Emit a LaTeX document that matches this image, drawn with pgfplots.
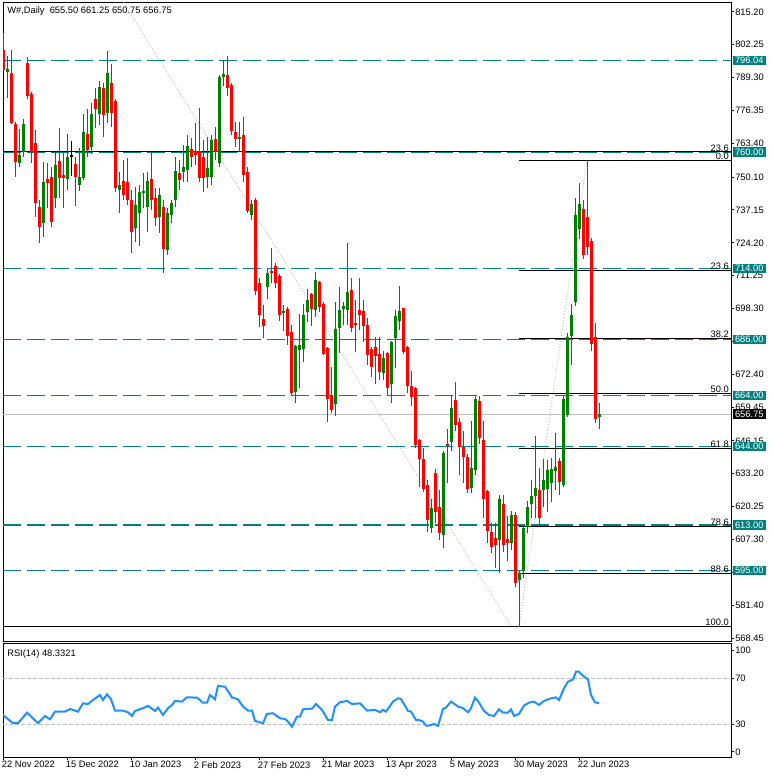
\documentclass[border=0pt]{standalone}
\usepackage{pgfplots}
\pgfplotsset{compat=1.18}
\usepackage{pgfplotstable}
\usepackage{fontspec}
\setmainfont{Liberation Sans}
\definecolor{mtteal}{RGB}{0,128,128}
\definecolor{mtred}{RGB}{255,0,0}
\definecolor{mtgreen}{RGB}{0,128,0}
\definecolor{mtblue}{RGB}{30,144,255}
\definecolor{mtsilver}{RGB}{192,192,192}
\definecolor{mtdiag}{RGB}{196,196,196}
\newcommand{\sm}{\fontsize{7}{8.4}\selectfont}

\pgfplotstableread{
i o h l c
1 791.7 797.9 781.2 792.7
4 755.6 769 754 759
5 760 773 758 771
10 732.2 756 726.4 748
13 741.7 759.8 737.8 754.9
16 749.2 767.1 745 758.2
19 747 761.7 744.8 750.3
20 749.9 775 749 768
22 762.1 779.2 759.2 775
24 774.9 788 770.6 785.8
26 775.3 799.6 771.3 791.3
29 745 752.3 736.1 747
33 730.2 746.3 724.7 739.1
34 735.8 747 723 744.4
35 744 751.6 738 744.4
36 738.5 752 728.6 748.6
39 734.5 746 728 743
41 721.4 738 719.4 735.8
42 735.2 741 732 739.8
43 741.1 758.2 738.5 752.5
45 752.3 762.8 748 754.2
46 752.9 766.7 748 762.4
51 750.3 766 746 753.6
52 750.3 766.7 747 764.7
54 755.6 790.4 754 789.5
55 789.5 796 786 790.8
59 765 772 759.8 765.8
62 735.2 741 733 739.5
66 706.9 714.4 701.9 712.4
70 696.8 699.7 689.6 697.5
73 665.5 684 661 683.5
74 682.1 696.1 667.1 684
75 682.4 700.1 677.4 695.8
76 697.1 705.9 693.1 701.7
78 697.7 712.7 695 709.6
83 660.8 700.8 656.1 690.2
84 690.8 706.9 680.7 697.7
85 698.1 701 692 699.3
86 697.7 724.3 692 704.9
95 673 681.5 670 679
97 668.7 685.6 661.2 685.1
98 686.8 697.7 674.7 695.4
99 693.4 707.3 690 697.5
107 611.7 623.1 610 619.6
110 609 642.2 603.8 641.5
112 645.8 664.2 642 659.2
117 627.7 654.1 625.7 635.3
118 634.7 664.2 632.7 662.7
124 607.1 624.8 594.2 623.1
127 606 618.5 603 616.9
129 591.3 595 572.9 594
130 595 613 592 611.7
131 612.3 622.5 610 620.2
132 621.3 630.7 615.6 624.4
133 624.4 648 615.6 627.7
135 626.8 639 620 630.7
136 627.4 638.6 618.3 634.7
137 629.7 639.3 622.2 634.9
138 634.4 649.1 626.8 636
140 628.8 664 628.1 662.7
141 656.3 688.5 655.7 687
142 687.6 700.1 676 695.8
143 700.8 742 699.3 735
144 729.5 747.9 725.6 739.5
149 655.5 661.25 650.75 656.75
}\bull

\pgfplotstableread{
i o h l c
0 800 807 792 792.5
2 791 800 771 771.5
3 771 772 750.3 756
6 795 797.3 781 782
7 783 783.5 755.6 760
8 763.4 768.7 734.3 740
9 738.5 741 724 730.6
11 749.4 755.6 737.8 747.9
12 750.3 754 730.6 732.6
14 756.5 769.4 741.7 749.9
15 750.9 759.5 737.8 749.6
18 755.3 758.2 738.9 750
21 767.1 777 758 760.8
23 780.9 785.1 769.3 776.8
25 785.4 787.1 765.8 774.6
27 787.3 794.7 769.7 775.5
28 780.2 780.9 744.4 745.7
30 748.6 756.9 741.1 743.1
31 748.3 757.5 739.1 741.1
32 741.1 745 720.3 728.6
37 749.2 759.5 737 741
38 741.7 746 731 734
40 738.2 741 712.2 721.6
44 751.6 756.9 745 749
47 761.2 765.4 754 758.2
48 760.2 771.3 755 759
49 760.2 777.2 748 749.6
50 758.2 764.7 744.4 749.6
53 765 770 757 760
56 790.4 797.9 782 785.1
57 786.4 787.1 766.7 768.4
58 768 771.8 762 765
60 766.8 773.7 748 751
61 752.3 754 736 736.9
63 741.1 742 703.6 705.2
64 708.2 710.2 691.2 695.8
65 694.2 699.7 686.6 691.4
67 713.1 722 708.5 712.6
68 715.1 716.1 706.3 708.5
69 711.1 712 693.5 695.8
71 698 699 684 687.6
72 689 691.8 664.2 664.9
77 704 704.5 691.6 698
79 708.8 709 697 699
80 700.1 701 680 680.4
81 682.9 683 653.7 662.7
82 664.2 675.4 657 658.3
87 705.6 710.2 689 690.8
88 692.6 701.7 681.3 691.8
89 697.7 710.2 690 695.8
90 697.5 701.7 685 691.4
91 691.8 694.5 676 680
92 682.4 683 671.5 675.3
93 683.3 687 668.4 679.7
94 680.4 687 670 673.4
96 680.9 681 664.2 667.1
100 698.5 698.6 680.4 681.3
101 683.3 683.5 665 667.9
102 667.9 673.5 660 663.3
103 667 667.5 643.2 644.5
104 646.7 647 628.1 639
105 639 643.2 626.1 627.2
106 628.8 630.7 610.4 615
108 633.6 634.9 613.7 618.3
109 620.2 626.8 607.1 610
111 644.9 650.8 629.4 644.1
113 662.2 669.4 650 652.4
114 653.7 655 632.7 643.9
115 643.9 650 629.7 639.9
116 639.9 641 625.5 627.4
119 661.9 664 645 647.1
120 646.5 654.1 615.6 623.3
121 626.4 627 605.8 610.8
122 610.4 613.7 601.8 604.5
123 607.7 613.7 595.9 605.1
125 621.3 624.8 602.5 605.1
126 607.5 616.5 598.9 606
128 616.9 618 588.7 590.3
134 626.8 635.3 613 615.6
139 638.4 639.3 624.8 630.1
145 737.4 741.1 718 719.4
146 734.5 756.75 719.4 722.7
147 725.1 726 681.7 684.3
148 687 692.5 653.3 654.6
}\bear

\pgfplotstableread{
i o h l c
17 758.4 764.3 750.5 758.4
}\doji

\pgfplotstableread{
i v
0 38.1
2.5 30.9
3.75 30.9
6 40.1
8.75 30.9
10.5 37.2
11.75 34.3
13 41
15.5 41
16.75 43.3
18.75 41
20 48.2
21.25 47.6
22.5 51.1
24.25 55.5
25 51.1
26 56.1
27 51.7
28 41.9
30 41.9
31.25 40.4
32.25 37.2
33 41.6
35 44
36.25 46
38 41.6
38.75 44.5
40 38.1
41.25 44
42.25 46.8
43 50.3
44.75 49.7
46 53.4
48.5 53.2
50 48.8
51 48.8
51.75 55.5
53 51.7
53.75 63.3
55.5 62.7
57.25 53.4
58.75 51.7
60 45.4
61.25 41.9
62.25 41.9
63 32.9
65 30.9
66 39
67.5 39.6
69.25 35.2
70.5 34.6
71.25 32.3
72.25 27.9
73.5 36.6
74.25 36.6
75 43
77.25 43.6
78.25 47.6
79.75 42.5
81.25 33.7
82.25 33.7
83 45.4
84.25 49.1
86 50.3
87.25 47.6
89.25 48.2
91 41.9
93 42.5
94.25 40.4
95 42.5
95.75 41
97.5 49.7
98.75 52.6
99.5 52
101.25 41.6
102 41
103.25 33.7
104 33.7
105 32.3
105.75 28.8
106.5 28.8
107.75 30.3
108.75 28.5
110 43.3
110.75 44.5
112 49.7
113.75 45.4
115 44
116.25 40.4
117 44
118 53.2
119 48.8
120.25 41.6
121.5 38.1
122.75 37.2
124 43
125 40.1
126.25 40.1
127 43
127.75 37.2
129 39
130.25 46.3
131.5 48.8
132.75 49.7
134 46.8
135.25 50.3
137 52.6
138.25 53.4
139 51.1
140.25 61.3
141.25 67
142.5 69
143.25 75.7
144 75.7
145.25 71.4
146.25 69
147 55.5
148 49.1
149 48.3
}\rsi

\pgfplotsset{
  wick/.style={draw=none, mark=none, forget plot,
    error bars/.cd, y dir=both, y explicit, error mark=none,
    error bar style={draw=#1, line width=0.75pt}},
  body/.style={draw=none, mark=none, forget plot,
    error bars/.cd, y dir=both, y explicit, error mark=none,
    error bar style={draw=#1, line width=2.25pt}},
  tl/.style={dash pattern=on 13.5pt off 4.5pt, line width=1pt, draw=mtteal},
  fib/.style={black, line width=0.75pt},
}

\begin{document}
\begin{tikzpicture}
\path[use as bounding box] (0,0) rectangle (579pt,-584.25pt);
\begin{axis}[
  at={(2.25pt,-1.875pt)}, anchor=north west,
  width=546pt, height=478.875pt, scale only axis,
  xmin=0, xmax=182, ymin=567.3, ymax=818.9,
  axis line style={line width=0.75pt},
  clip mode=individual,
  xtick=\empty,
  ytick={815.20,802.25,789.30,776.35,763.40,750.10,737.15,724.20,711.25,698.30,685.35,672.40,659.45,646.15,633.20,620.25,607.30,594.35,581.40,568.45},
  yticklabels={815.20,802.25,789.30,776.35,763.40,750.10,737.15,724.20,711.25,698.30,685.35,672.40,659.45,646.15,633.20,620.25,607.30,594.35,581.40,568.45},
  ytick pos=right, yticklabel pos=right,
  tick align=outside, major tick length=2pt,
  tick style={black, line width=0.75pt},
  yticklabel style={font=\sm, anchor=west, inner sep=0pt, xshift=1pt},
]
% current price line
\addplot[mtsilver, line width=0.75pt] coordinates {(0,656.75) (182,656.75)};
% diagonals
\addplot[mtdiag, line width=0.75pt, dash pattern=on 0.75pt off 1.5pt] coordinates {(29.75,819.93) (127,573.2)};
\addplot[mtdiag, line width=0.75pt, dash pattern=on 0.75pt off 1.5pt] coordinates {(129,572.9) (146,756.75)};
% teal levels
\addplot[tl] coordinates {(0,796.04) (182,796.04)};
\addplot[tl] coordinates {(0,760) (182,760)};
\addplot[tl] coordinates {(0,714) (182,714)};
\addplot[tl] coordinates {(0,686) (182,686)};
\addplot[tl] coordinates {(0,664) (182,664)};
\addplot[tl] coordinates {(0,644) (182,644)};
\addplot[tl] coordinates {(0,613) (182,613)};
\addplot[tl] coordinates {(0,595) (182,595)};
% fibonacci levels
\addplot[fib] coordinates {(0,760) (182,760)};
\addplot[fib] coordinates {(0,572.9) (182,572.9)};
\addplot[fib] coordinates {(129,756.75) (182,756.75)};
\addplot[fib] coordinates {(129,713.4) (182,713.4)};
\addplot[fib] coordinates {(129,686.5) (182,686.5)};
\addplot[fib] coordinates {(129,664.8) (182,664.8)};
\addplot[fib] coordinates {(129,643.1) (182,643.1)};
\addplot[fib] coordinates {(129,612.3) (182,612.3)};
\addplot[fib] coordinates {(129,593.9) (182,593.9)};
% candles
\addplot[wick=mtred] table[x=i, y expr={(\thisrow{h}+\thisrow{l})/2}, y error expr={(\thisrow{h}-\thisrow{l})/2}] {\bear};
\addplot[body=mtred] table[x=i, y expr={(\thisrow{o}+\thisrow{c})/2}, y error expr={max(abs(\thisrow{o}-\thisrow{c})/2,0.3)}] {\bear};
\addplot[wick=mtgreen] table[x=i, y expr={(\thisrow{h}+\thisrow{l})/2}, y error expr={(\thisrow{h}-\thisrow{l})/2}] {\bull};
\addplot[body=mtgreen] table[x=i, y expr={(\thisrow{o}+\thisrow{c})/2}, y error expr={max(abs(\thisrow{o}-\thisrow{c})/2,0.3)}] {\bull};
\addplot[wick=black] table[x=i, y expr={(\thisrow{h}+\thisrow{l})/2}, y error expr={(\thisrow{h}-\thisrow{l})/2}] {\doji};
\addplot[body=black] table[x=i, y expr={(\thisrow{o}+\thisrow{c})/2}, y error expr={0.3}] {\doji};
% fib labels
\foreach \v/\t in {760/23.6, 756.75/0.0, 713.4/23.6, 686.5/38.2, 664.8/50.0, 643.1/61.8, 612.3/78.6, 593.9/88.6, 572.9/100.0}{
  \edef\temp{\noexpand\node[anchor=south east, font=\noexpand\sm, inner xsep=1.5pt, inner ysep=0.4pt] at (axis cs:182,\v) {\t};}
  \temp
}
\coordinate (R796) at (axis cs:182,796.04);
\coordinate (R760) at (axis cs:182,760);
\coordinate (R714) at (axis cs:182,714);
\coordinate (R686) at (axis cs:182,686);
\coordinate (R664) at (axis cs:182,664);
\coordinate (R657) at (axis cs:182,656.75);
\coordinate (R644) at (axis cs:182,644);
\coordinate (R613) at (axis cs:182,613);
\coordinate (R595) at (axis cs:182,595);
\end{axis}

% price boxes
\foreach \c/\t in {R796/796.04, R760/760.00, R714/714.00, R686/686.00, R664/664.00, R644/644.00, R613/613.00, R595/595.00}{
  \node[fill=mtteal, text=white, anchor=west, font=\sm, inner xsep=1.6pt, inner ysep=1pt, xshift=1.2pt] at (\c) {\t};
}
\node[fill=black, text=white, anchor=west, font=\sm, inner xsep=1.6pt, inner ysep=1pt, xshift=1.2pt] at (R657) {656.75};

\node[anchor=north west, font=\sm, inner sep=0pt] at (5.25pt,-5pt) {W\#,Daily\ \ 655.50 661.25 650.75 656.75};

\begin{axis}[
  at={(2.25pt,-482.25pt)}, anchor=north west,
  width=546pt, height=85.5pt, scale only axis,
  xmin=0, xmax=182, ymin=1.5, ymax=100.7,
  axis line style={line width=0.75pt},
  xtick={0,16,32,48,64,80,96,112,128,144},
  xticklabels={22 Nov 2022,15 Dec 2022,10 Jan 2023,2 Feb 2023,27 Feb 2023,21 Mar 2023,13 Apr 2023,5 May 2023,30 May 2023,22 Jun 2023},
  xtick pos=bottom,
  ytick={5.9,30,70,94.6}, yticklabels={0,30,70,100},
  ytick pos=right, yticklabel pos=right,
  tick align=outside, major tick length=2pt,
  tick style={black, line width=0.75pt},
  yticklabel style={font=\sm, anchor=west, inner sep=0pt, xshift=1pt},
  xticklabel style={font=\sm, anchor=north west, inner sep=0pt, xshift=-1pt, yshift=-1pt},
]
\addplot[mtsilver, line width=0.75pt, dash pattern=on 3pt off 1.5pt] coordinates {(0,70) (182,70)};
\addplot[mtsilver, line width=0.75pt, dash pattern=on 3pt off 1.5pt] coordinates {(0,30) (182,30)};
\addplot[mtblue, line width=1.5pt] table[x=i, y=v] {\rsi};
\node[anchor=north west, font=\sm, inner sep=0pt] at (rel axis cs:0.0055,0.94) {RSI(14) 48.3321};
\end{axis}
\end{tikzpicture}
\end{document}
